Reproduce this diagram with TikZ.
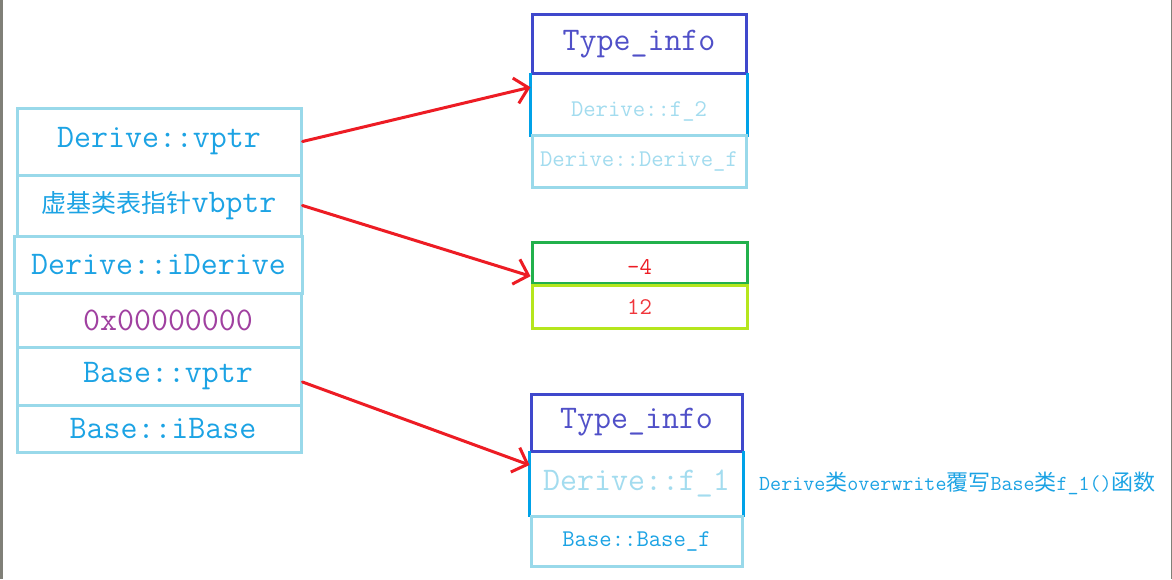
\documentclass[tikz,border=0pt]{standalone}
\usepackage{fontspec}
\newfontfamily\cjk{Noto Sans CJK SC}
\usetikzlibrary{arrows.meta,calc}
\definecolor{paleblue}{HTML}{99D9EA}
\definecolor{sideblue}{HTML}{00A2E8}
\definecolor{indigo}{HTML}{3F48CC}
\definecolor{txtblue}{HTML}{1CA3E4}
\definecolor{typeblue}{HTML}{5050C8}
\definecolor{faintblue}{HTML}{A3DCEF}
\definecolor{purp}{HTML}{A040A0}
\definecolor{mgreen}{HTML}{22B14C}
\definecolor{lime}{HTML}{B5E61D}
\definecolor{arrowred}{HTML}{ED1C24}
\definecolor{edgegray}{HTML}{808078}

\begin{document}
\begin{tikzpicture}[x=1pt,y=-1pt,
  cell/.style={draw=paleblue,line width=3pt,inner sep=0pt,minimum width=284pt,text=txtblue,font=\ttfamily\fontsize{33}{34}\selectfont},
  slot/.style={line width=3pt,inner sep=0pt,minimum width=214pt,text=faintblue,font=\ttfamily\fontsize{24}{26}\selectfont},
  typebox/.style={slot,draw=indigo,text=typeblue,font=\ttfamily\fontsize{33}{34}\selectfont},
  offbox/.style={slot,minimum width=215pt,text=arrowred,font=\ttfamily\fontsize{24}{26}\selectfont},
  sidebar/.style={sideblue,line width=2.5pt},
  ptr/.style={arrowred,line width=3pt,line cap=round,-{Straight Barb[length=13pt,width=26pt,line width=3pt]}}]
  \fill[white] (0,0) rectangle (1172,579);
  \useasboundingbox (0,0) rectangle (1172,579);
  \fill[edgegray] (0,0) rectangle (3,579);
  \fill[edgegray] (1170.5,0) rectangle (1172,579);

  \node[cell,minimum height=67pt] (dvptr) at (159,141.5) {Derive::vptr};
  \node[cell,minimum height=61pt] (vbptr) at (159,205.5) {{\cjk\fontsize{25}{25}\selectfont 虚基类表指针}vbptr};
  \node[cell,minimum width=288pt,minimum height=57pt] (iderive) at (158.5,264.5) {Derive::iDerive};
  \node[cell,minimum height=54pt,text=purp] (zero) at (159,320) {\hspace{18pt}0x00000000};
  \node[cell,minimum height=58pt] (bvptr) at (159,376) {\hspace{18pt}Base::vptr};
  \node[cell,minimum height=47pt] (ibase) at (159,428.5) {\hspace{8pt}Base::iBase};

  \node[typebox,minimum height=59pt] (ti1) at (639,44) {Type\_info};
  \node[slot,minimum height=61pt] (f2) at (639,104.5) {\raisebox{-12pt}[0pt][0pt]{Derive::f\_2}};
  \draw[sidebar] (f2.north west) -- (f2.south west);
  \draw[sidebar] (f2.north east) -- (f2.south east);
  \node[slot,draw=paleblue,minimum height=52pt] (dfun) at (639,161.5) {Derive::Derive\_f};

  \node[offbox,draw=mgreen,minimum height=41pt] (m4) at (639.5,263) {\raisebox{-11pt}[0pt][0pt]{-4}};
  \node[offbox,draw=lime,minimum height=43pt,text=arrowred!85!pink] (m12) at (639.5,307) {12};

  \node[typebox,minimum width=211pt,minimum height=57pt] (ti2) at (636.5,422.5) {Type\_info};
  \node[slot,minimum width=211pt,minimum height=63pt,font=\ttfamily\fontsize{33}{34}\selectfont] (f1) at (636.5,483.5) {Derive::f\_1};
  \draw[sidebar] (f1.north west) -- (f1.south west);
  \draw[sidebar] (f1.north east) -- (f1.south east);
  \node[slot,draw=paleblue,minimum width=211pt,minimum height=50pt,text=txtblue] (bfun) at (636.5,541) {Base::Base\_f};

  \node[anchor=west,inner sep=0pt,text=txtblue,font=\ttfamily\fontsize{21.4}{23}\selectfont] (note) at (759,483)
    {Derive{\cjk\fontsize{22}{22}\selectfont 类}overwrite{\cjk\fontsize{22}{22}\selectfont 覆写}Base{\cjk\fontsize{22}{22}\selectfont 类}f\_1(){\cjk\fontsize{22}{22}\selectfont 函数}};

  \draw[ptr] (dvptr.east) -- ($(f2.north west)!0.23!(f2.south west)$);
  \draw[ptr] (vbptr.east) -- ($(m4.north west)!0.8!(m4.south west)$);
  \draw[ptr] ($(bvptr.east)+(0,6)$) -- ($(f1.north west)!0.22!(f1.south west)$);
\end{tikzpicture}
\end{document}
